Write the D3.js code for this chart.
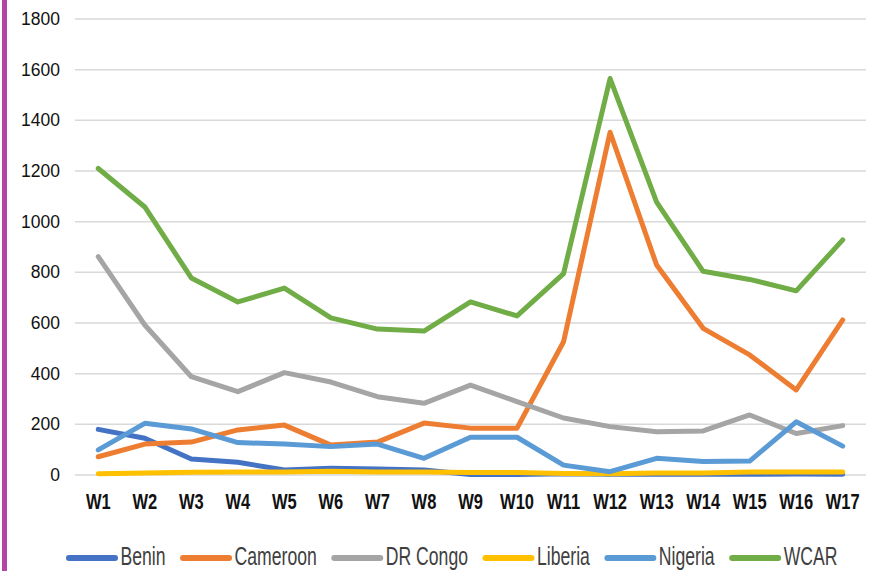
<!DOCTYPE html>
<html><head><meta charset="utf-8">
<script src="https://cdn.jsdelivr.net/npm/d3@7"></script>
<style>
html,body{margin:0;padding:0;background:#fff;}
svg{display:block;}
</style></head>
<body>
<svg id="chart" width="881" height="571"></svg>
<script>
const weeks = ["W1","W2","W3","W4","W5","W6","W7","W8","W9","W10","W11","W12","W13","W14","W15","W16","W17"];
const yTicks = [0,200,400,600,800,1000,1200,1400,1600,1800];
const seriesNames = ["Benin","Cameroon","DR Congo","Liberia","Nigeria","WCAR"];
const seriesColors = ["#4472C4","#ED7D31","#A5A5A5","#FFC000","#5B9BD5","#70AD47"];
const benin    = [180,145,63,50,20,27,24,20,2,2,5,3,3,3,3,4,3];
const cameroon = [72,122,130,178,197,118,130,205,185,185,526,1353,829,579,474,336,612];
const drCongo  = [862,592,388,329,404,367,309,283,355,290,225,191,171,174,237,164,195];
const liberia  = [5,8,11,12,12,15,12,12,10,10,6,5,8,8,12,12,12];
const nigeria  = [99,204,182,128,122,112,122,66,149,149,39,13,66,53,55,210,114];
const wcar     = [1210,1058,778,683,738,620,576,568,683,628,795,1565,1077,804,772,727,928];
const seriesValues = [benin,cameroon,drCongo,liberia,nigeria,wcar];

const svg = d3.select("#chart");
// purple left border
svg.append("rect").attr("x",2).attr("y",0).attr("width",5).attr("height",571).attr("fill","#B145A8");

const x = d3.scaleBand().domain(weeks).range([75,866]);
const y = d3.scaleLinear().domain([0,1800]).range([475,19]);

// gridlines
svg.append("g").selectAll("line").data(yTicks).join("line")
  .attr("x1",75).attr("x2",866)
  .attr("y1",d=>y(d)).attr("y2",d=>y(d))
  .attr("stroke","#D9D9D9").attr("stroke-width",1.5);

// y axis labels
const yAxis = svg.append("g").attr("transform","translate(60,0)")
  .call(d3.axisLeft(y).tickValues(yTicks).tickSize(0).tickPadding(0).tickFormat(d3.format("d")));
yAxis.select(".domain").remove();
yAxis.selectAll("text").attr("font-family","'Liberation Sans', Arial, sans-serif").attr("font-size","17.5px").attr("fill","#111");

// x axis labels (condensed bold)
const xAxis = svg.append("g").attr("transform","translate(0,509)")
  .call(d3.axisBottom(x).tickSize(0).tickPadding(0));
xAxis.select(".domain").remove();
xAxis.selectAll("text").attr("font-family","'Liberation Sans', Arial, sans-serif")
  .attr("font-weight","bold").attr("font-size","22px").attr("fill","#111")
  .attr("y",0).attr("dy","0").attr("transform","scale(0.75,1)");

// lines
const line = d3.line().x((d,i)=>x(weeks[i])+x.bandwidth()/2).y(d=>y(d));
svg.append("g").selectAll("path").data(seriesValues).join("path")
  .attr("d",d=>line(d)).attr("fill","none")
  .attr("stroke",(d,i)=>seriesColors[i]).attr("stroke-width",5)
  .attr("stroke-linejoin","round").attr("stroke-linecap","round");

// legend
const lg = svg.append("g");
let cx = 0;
const sx = 0.705;
seriesNames.forEach((n,i)=>{
  const g = lg.append("g");
  g.append("line").attr("x1",2.5).attr("x2",48.5).attr("y1",0).attr("y2",0)
    .attr("stroke",seriesColors[i]).attr("stroke-width",6).attr("stroke-linecap","round");
  const tg = g.append("g").attr("transform","translate(54,7)");
  const t = tg.append("text").attr("x",0).attr("y",0)
    .attr("font-family","'Liberation Sans', Arial, sans-serif").attr("font-size","25px")
    .attr("fill","#404040").attr("transform",`scale(${sx},1)`).text(n);
  const w = 54 + t.node().getComputedTextLength()*sx;
  g.attr("transform",`translate(${cx},0)`);
  cx += w + 15;
});
lg.attr("transform",`translate(66.5,558)`);
</script>
</body></html>
